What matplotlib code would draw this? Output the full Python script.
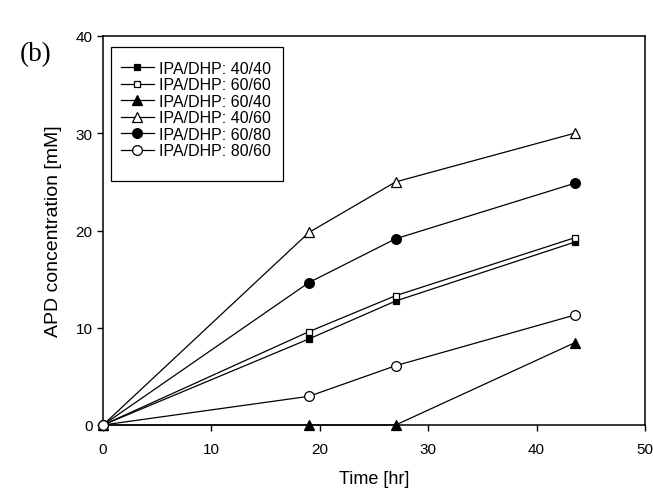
import matplotlib
matplotlib.use("Agg")
import matplotlib.pyplot as plt
from matplotlib.patches import Rectangle

time_hr = [0, 19, 27, 43.5]
labels = ["IPA/DHP: 40/40", "IPA/DHP: 60/60", "IPA/DHP: 60/40",
          "IPA/DHP: 40/60", "IPA/DHP: 60/80", "IPA/DHP: 80/60"]
s_40_40 = [0, 8.85, 12.75, 18.8]
s_60_60 = [0, 9.6, 13.3, 19.25]
s_60_40 = [0, 0, 0, 8.45]
s_40_60 = [0, 19.8, 25.0, 30.0]
s_60_80 = [0, 14.65, 19.15, 24.85]
s_80_60 = [0, 2.95, 6.1, 11.3]

series = [s_40_40, s_60_60, s_60_40, s_40_60, s_60_80, s_80_60]
markers = ["s", "s", "^", "^", "o", "o"]
faces = ["black", "white", "black", "white", "black", "white"]
msizes = [4.8, 4.8, 7, 7, 7, 7]

plt.rcParams['font.family'] = ['Liberation Sans', 'DejaVu Sans']

fig = plt.figure(figsize=(6.53, 4.89), dpi=100)
ax = fig.add_axes([103/653, 1 - 426/489, (645-103)/653, (426-37)/489])

for ys, lab, m, fc, ms in zip(series, labels, markers, faces, msizes):
    ax.plot(time_hr, ys, color="black", lw=0.9, marker=m, markersize=ms,
            markerfacecolor=fc, markeredgecolor="black", markeredgewidth=0.9,
            label=lab, clip_on=False, zorder=3)

ax.set_xlim(0, 50)
ax.set_ylim(0, 40)
ax.set_xticks([0, 10, 20, 30, 40, 50])
ax.set_yticks([0, 10, 20, 30, 40])
ax.tick_params(direction="out", length=4, width=1, labelsize=11)
ax.tick_params(axis="x", pad=8.6)
ax.tick_params(axis="y", pad=3.6)
for sp in ax.spines.values():
    sp.set_linewidth(1.1)
ax.set_xlabel("Time [hr]", fontsize=13, labelpad=9.5)
ax.set_ylabel("APD concentration [mM]", fontsize=14, labelpad=10)

leg = ax.legend(loc="upper left", bbox_to_anchor=(0.0327, 0.937), fontsize=11.5,
                frameon=False, handlelength=2.1, handletextpad=0.3,
                borderpad=0, labelspacing=0.1, borderaxespad=0)

ax.add_patch(Rectangle((0.0142, 0.628), 0.332 - 0.0142, 0.9717 - 0.628,
                       transform=ax.transAxes, fill=False, edgecolor="black",
                       linewidth=0.9, zorder=4))

fig.text(20/653, 1 - 55/489, "(b)", fontsize=19.5, family="Liberation Serif",
         ha="left", va="center")

fig.savefig("out.png", dpi=100)
